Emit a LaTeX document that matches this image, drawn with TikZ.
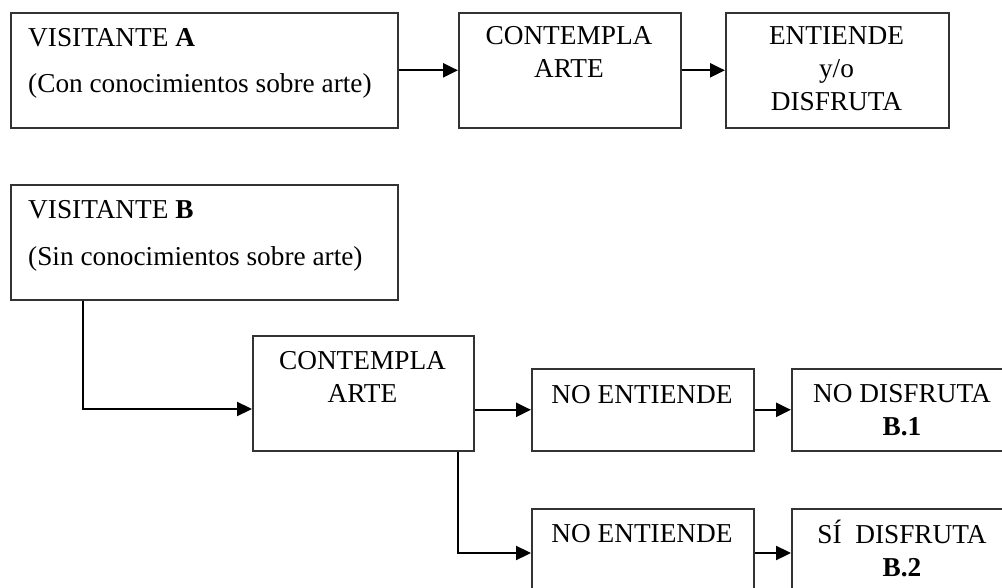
\documentclass[tikz,border=0pt]{standalone}
\usepackage{fontspec}
\setmainfont{Liberation Serif}
\usetikzlibrary{arrows.meta}
\begin{document}
\begin{tikzpicture}[x=1pt,y=-1pt,
  box/.style={draw=black!80,line width=1.6pt,rectangle,anchor=north west,inner sep=0pt},
  txt/.style={anchor=base,inner sep=0pt,font=\fontsize{27.3}{33}\selectfont},
  txtl/.style={anchor=base west,inner sep=0pt,font=\fontsize{27.3}{33}\selectfont},
  arr/.style={line width=2.3pt,-{Triangle[length=15pt,width=14pt]}}]
\useasboundingbox (0,0) rectangle (1002,588);
\clip (0,0) rectangle (1002,588);
% top row
\node[box,minimum width=387pt,minimum height=115pt] (A) at (10,12) {};
\node[box,minimum width=222pt,minimum height=115pt] (CA1) at (458,12) {};
\node[box,minimum width=223pt,minimum height=115pt] (ENT) at (725,12) {};
\node[txtl] (tA1) at (28,47) {VISITANTE \textbf{A}};
\node[txtl] (tA2) at (28,93) {(Con conocimientos sobre arte)};
\node[txt] (tC1) at (569,45) {CONTEMPLA};
\node[txt] (tC2) at (569,78) {ARTE};
\node[txt] (tE1) at (836.5,45) {ENTIENDE};
\node[txt] (tE2) at (836.5,78) {y/o};
\node[txt] (tE3) at (836.5,111) {DISFRUTA};
\draw[arr] (A.east) -- (CA1.west);
\draw[arr] (CA1.east) -- (ENT.west);
% bottom part
\node[box,minimum width=387pt,minimum height=115pt] (B) at (10,184) {};
\node[box,minimum width=221pt,minimum height=115pt] (CA2) at (252,335) {};
\node[box,minimum width=222pt,minimum height=82pt] (NE1) at (531,368) {};
\node[box,minimum width=222pt,minimum height=82pt] (ND) at (791,368) {};
\node[box,minimum width=222pt,minimum height=90pt] (NE2) at (531,508) {};
\node[box,minimum width=222pt,minimum height=90pt] (SD) at (791,508) {};
\node[txtl] (tB1) at (28,219) {VISITANTE \textbf{B}};
\node[txtl] (tB2) at (28,266) {(Sin conocimientos sobre arte)};
\node[txt] (tC3) at (362.5,369) {CONTEMPLA};
\node[txt] (tC4) at (362.5,402) {ARTE};
\node[txt] (tN1) at (642,403) {NO ENTIENDE};
\node[txt] (tD1) at (902,402) {NO DISFRUTA};
\node[txt] (tD2) at (902,435) {\textbf{B.1}};
\node[txt] (tN2) at (642,542) {NO ENTIENDE};
\node[txt] (tS1) at (902,543) {SÍ\ \ DISFRUTA};
\node[txt] (tS2) at (902,576) {\textbf{B.2}};
\coordinate (j1) at (83,409);
\coordinate (j2) at (458,553);
\draw[arr] (B.south -| j1) -- (j1) -- (CA2.west |- j1);
\draw[arr] (CA2.east |- NE1.west) -- (NE1.west);
\draw[arr] (NE1.east) -- (ND.west);
\draw[arr] (CA2.south -| j2) -- (j2) -- (NE2.west |- j2);
\draw[arr] (NE2.east |- j2) -- (SD.west |- j2);
\end{tikzpicture}
\end{document}
